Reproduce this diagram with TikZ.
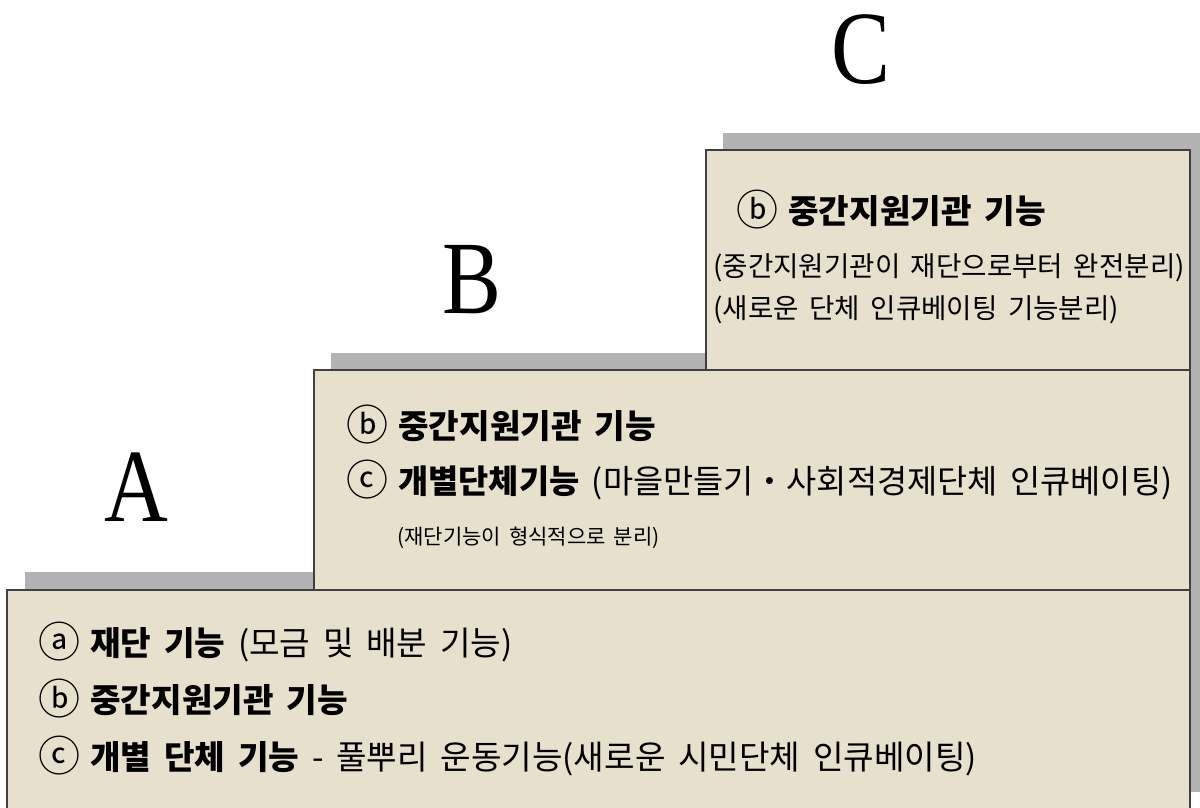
\documentclass[tikz,border=0pt]{standalone}
\usepackage{fontspec}
\setmainfont{Noto Sans CJK KR}[WordSpace=1.7]
\newfontfamily\lat{Liberation Serif}[FakeStretch=0.85]
\newcommand{\encl}[1]{\raisebox{-1.2pt}{\fontsize{21}{18}\selectfont #1}\hspace{5pt}}
\definecolor{boxfill}{RGB}{230,224,204}
\definecolor{shade}{RGB}{178,178,178}
\definecolor{edge}{RGB}{64,64,64}
\tikzset{
  stepbox/.style={fill=boxfill, draw=edge, line width=0.75pt},
  shadowbox/.style={fill=shade},
  bigletter/.style={inner sep=0pt, font=\lat\fontsize{52}{52}\selectfont},
  txt/.style={inner sep=0pt, anchor=west, font=\fontsize{16.6}{18}\selectfont},
  txtsmall/.style={inner sep=0pt, anchor=west, font=\fontsize{13.8}{15}\selectfont},
  txttiny/.style={inner sep=0pt, anchor=west, font=\fontsize{10.5}{12}\selectfont}
}
\begin{document}
\begin{tikzpicture}[x=0.5pt,y=-0.5pt]
\useasboundingbox (0,0) rectangle (1200,808);
\begin{scope}
\clip (0,0) rectangle (1200,808);
% shadows
\fill[shadowbox] (723,133) rectangle (1208,353);
\fill[shadowbox] (331,353) rectangle (1208,573);
\fill[shadowbox] (25,572) rectangle (1208,792);
% boxes
\draw[stepbox] (706,150) rectangle (1190,370);
\draw[stepbox] (314,370) rectangle (1190,590);
\draw[stepbox] (7,590) rectangle (1190,840);
\end{scope}
% letters
\node[bigletter] (A) at (136,487) {A};
\node[bigletter] (B) at (472,280) {B};
\node[bigletter] (C) at (861,50) {C};
% box C text
\node[txt] (c1) at (736,210) {\encl{ⓑ}\textbf{중간지원기관 기능}};
\node[txtsmall] (c2) at (713,268) {(중간지원기관이 재단으로부터 완전분리)};
\node[txtsmall] (c3) at (713,310) {(새로운 단체 인큐베이팅 기능분리)};
% box B text
\node[txt] (b1) at (346,425) {\encl{ⓑ}\textbf{중간지원기관 기능}};
\node[txt, font=\fontsize{16.4}{18}\selectfont] (b2) at (346,480) {\encl{ⓒ}\textbf{개별단체기능} (마을만들기・사회적경제단체 인큐베이팅)};
\node[txttiny] (b3) at (397,538) {(재단기능이 형식적으로 분리)};
% box A text
\node[txt] (a1) at (38,642) {\encl{ⓐ}\textbf{재단 기능} (모금 및 배분 기능)};
\node[txt] (a2) at (38,699) {\encl{ⓑ}\textbf{중간지원기관 기능}};
\node[txt] (a3) at (38,756) {\encl{ⓒ}\textbf{개별 단체 기능} - 풀뿌리 운동기능(새로운 시민단체 인큐베이팅)};
\end{tikzpicture}
\end{document}
